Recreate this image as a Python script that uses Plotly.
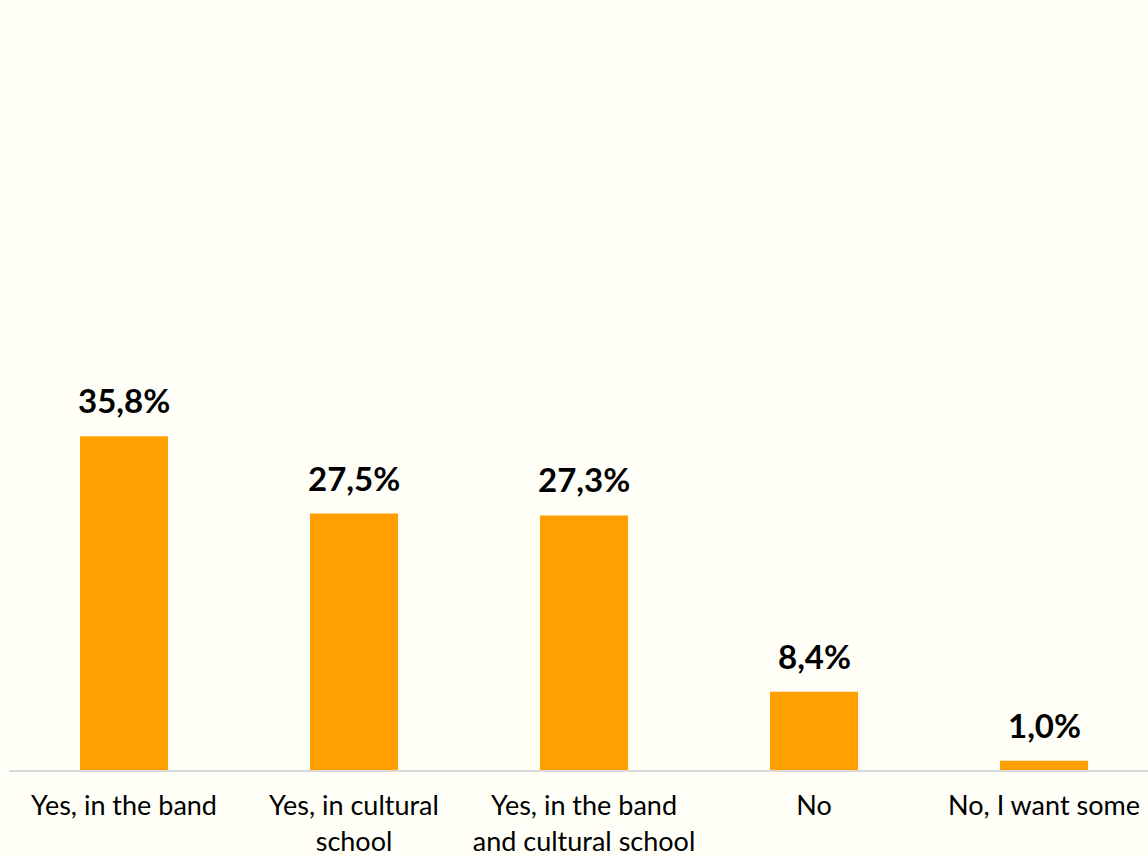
import plotly.graph_objects as go

categories = ["Yes, in the band", "Yes, in cultural<br>school", "Yes, in the band<br>and cultural school", "No", "No, I want some"]
values = [35.8, 27.5, 27.3, 8.4, 1.0]

BG = "#FFFFF8"
BAR = "#FFA000"
FONT = "Lato, Carlito, Calibri, sans-serif"

x_idx = list(range(len(categories)))

fig = go.Figure(go.Bar(
    x=x_idx, y=values, marker=dict(color=BAR, line=dict(width=0)),
    width=0.383, hoverinfo="skip",
))

for i, v in zip(x_idx, values):
    fig.add_annotation(
        x=i, y=v, text="<b>" + f"{v:.1f}%".replace(".", ",") + "</b>",
        showarrow=False, yanchor="middle", yshift=36,
        font=dict(family=FONT, size=33, color="#000000"),
    )

fig.update_layout(
    width=1148, height=856,
    paper_bgcolor=BG, plot_bgcolor=BG,
    margin=dict(l=9, r=0, t=24, b=86),
    showlegend=False,
    font=dict(family=FONT, size=27, color="#000000"),
    xaxis=dict(
        range=[-0.5, 4.452], tickmode="array", tickvals=x_idx, ticktext=categories,
        showgrid=False, zeroline=False, showline=True, linecolor="#D9D9D9", linewidth=2,
        ticks="outside", ticklen=11, tickcolor=BG,
        tickfont=dict(family=FONT, size=27, color="#000000"), fixedrange=True,
    ),
    yaxis=dict(range=[0, 80], visible=False, fixedrange=True),
)

fig.write_html(
    "out.html",
    config={"displayModeBar": False},
    post_script="document.body.style.margin='0';document.body.style.background='" + BG + "';document.body.style.overflow='hidden';",
)
